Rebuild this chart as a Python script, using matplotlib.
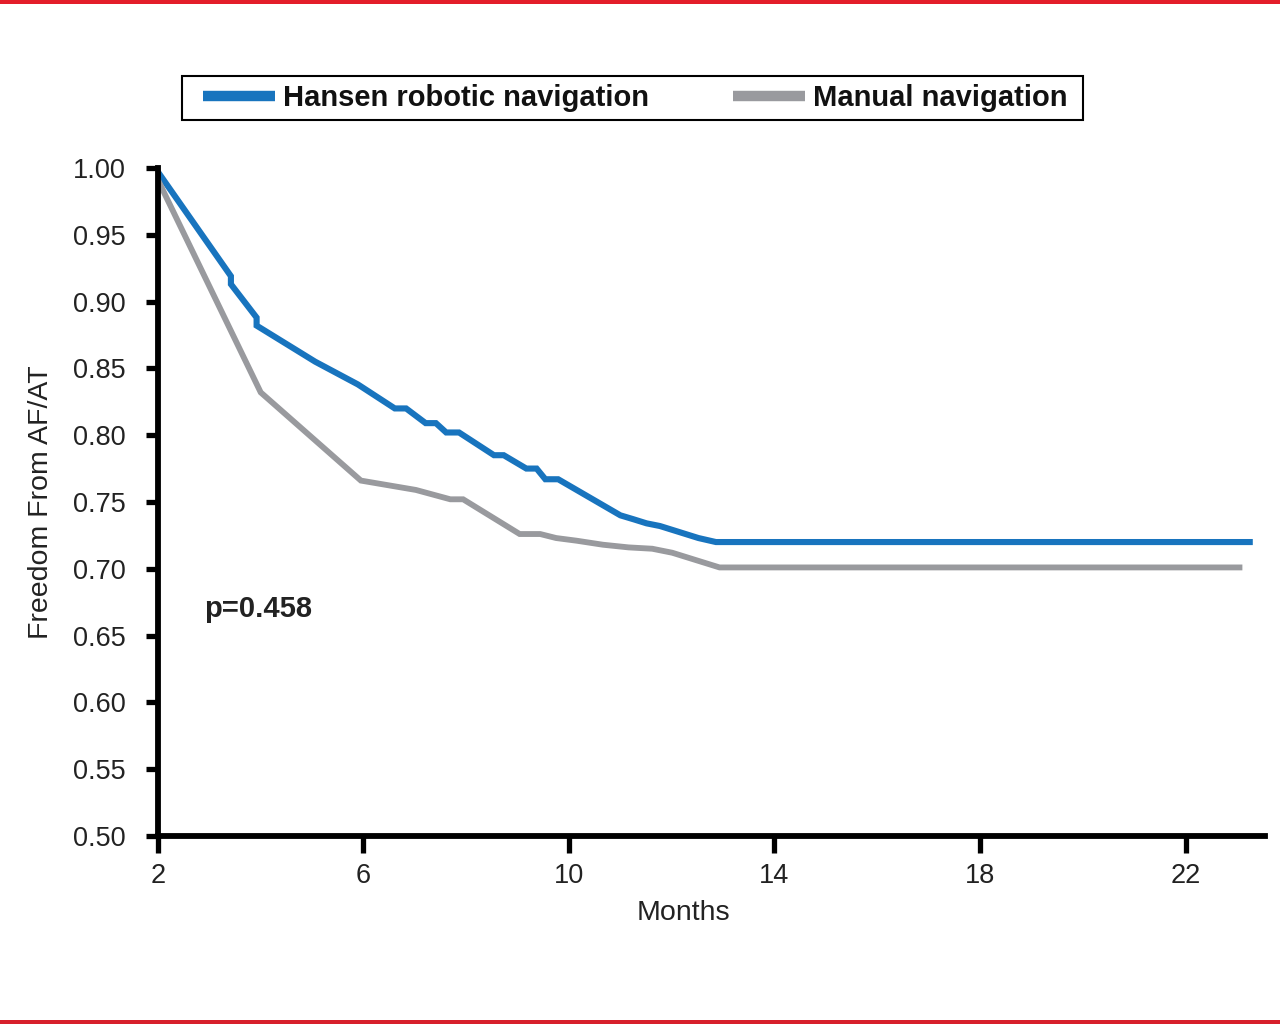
import matplotlib.pyplot as plt
from matplotlib.patches import Rectangle

plt.rcParams['font.family'] = ['Liberation Sans', 'DejaVu Sans']

# Kaplan-Meier style curves (months, freedom from AF/AT)
hansen_months = [2.0, 3.42, 3.42, 3.92, 3.92, 5.06, 5.89, 6.61, 6.83, 7.21, 7.41,
                 7.61, 7.86, 8.54, 8.73, 9.17, 9.37, 9.54, 9.79, 11.00, 11.26,
                 11.51, 11.77, 12.02, 12.27, 12.52, 12.86, 23.25]
hansen_surv = [0.997, 0.919, 0.913, 0.888, 0.882, 0.855, 0.838, 0.820, 0.820, 0.809,
               0.809, 0.802, 0.802, 0.785, 0.785, 0.775, 0.775, 0.767, 0.767, 0.740,
               0.737, 0.734, 0.732, 0.729, 0.726, 0.723, 0.720, 0.720]

manual_months = [2.0, 4.00, 5.95, 7.02, 7.69, 7.94, 9.04, 9.44, 9.75, 10.15,
                 10.66, 11.16, 11.62, 12.01, 12.93, 23.05]
manual_surv = [0.991, 0.832, 0.766, 0.759, 0.752, 0.752, 0.726, 0.726, 0.723, 0.721,
               0.718, 0.716, 0.715, 0.712, 0.701, 0.701]

x_ticks = [2, 6, 10, 14, 18, 22]
y_ticks = [0.50, 0.55, 0.60, 0.65, 0.70, 0.75, 0.80, 0.85, 0.90, 0.95, 1.00]

blue = '#1874be'
grey = '#999a9e'
text_col = '#222222'

fig = plt.figure(figsize=(12.8, 10.24), dpi=100)
ax = fig.add_axes([0.1234, 0.1836, 0.8646, 0.6524])

ax.plot(hansen_months, hansen_surv, color=blue, lw=4.4, label='Hansen robotic navigation',
        solid_joinstyle='miter')
ax.plot(manual_months, manual_surv, color=grey, lw=4.2, label='Manual navigation',
        solid_joinstyle='miter')

ax.set_xlim(2, 23.54)
ax.set_ylim(0.5, 1.0)
ax.set_xticks(x_ticks)
ax.set_yticks(y_ticks)
ax.set_yticklabels([f'{v:.2f}' for v in y_ticks])

for side in ['top', 'right']:
    ax.spines[side].set_visible(False)
for side in ['left', 'bottom']:
    ax.spines[side].set_linewidth(4.2)
    ax.spines[side].set_color('black')
ax.tick_params(axis='both', direction='out', width=3.8, labelsize=19.5,
               colors='black', labelcolor=text_col)
ax.tick_params(axis='x', length=12, pad=7.5)
ax.tick_params(axis='y', length=9, pad=14)

ax.set_xlabel('Months', fontsize=20.5, color=text_col, labelpad=8, x=0.475)
ax.set_ylabel('Freedom From AF/AT', fontsize=20.5, color=text_col, labelpad=14)

ax.text(2.9, 0.670, 'p=0.458', fontsize=21, fontweight='bold', color=text_col,
        va='center', ha='left')

# legend contents spread across the box, frame drawn separately
leg = ax.legend(loc='center', bbox_to_anchor=(0.04065, 1.1048, 0.7814, 0.0),
                mode='expand', ncol=2, frameon=False, borderaxespad=0, borderpad=0,
                handlelength=2.47, handletextpad=0.27,
                prop={'weight': 'bold', 'size': 21})
for line in leg.get_lines():
    line.set_linewidth(7.5)
    line.set_solid_capstyle('butt')
for t in leg.get_texts():
    t.set_color('#111111')
fig.add_artist(Rectangle((182 / 1280, 1 - 120 / 1024), 901 / 1280, 44 / 1024,
                         transform=fig.transFigure, fill=False, edgecolor='black', lw=1.5))

# red border strips at top and bottom
fig.add_artist(Rectangle((0, 1 - 4 / 1024), 1, 4 / 1024, transform=fig.transFigure,
                         color='#e31d2a', lw=0))
fig.add_artist(Rectangle((0, 0), 1, 4 / 1024, transform=fig.transFigure,
                         color='#d71f2b', lw=0))

fig.savefig('out.png', dpi=100)
